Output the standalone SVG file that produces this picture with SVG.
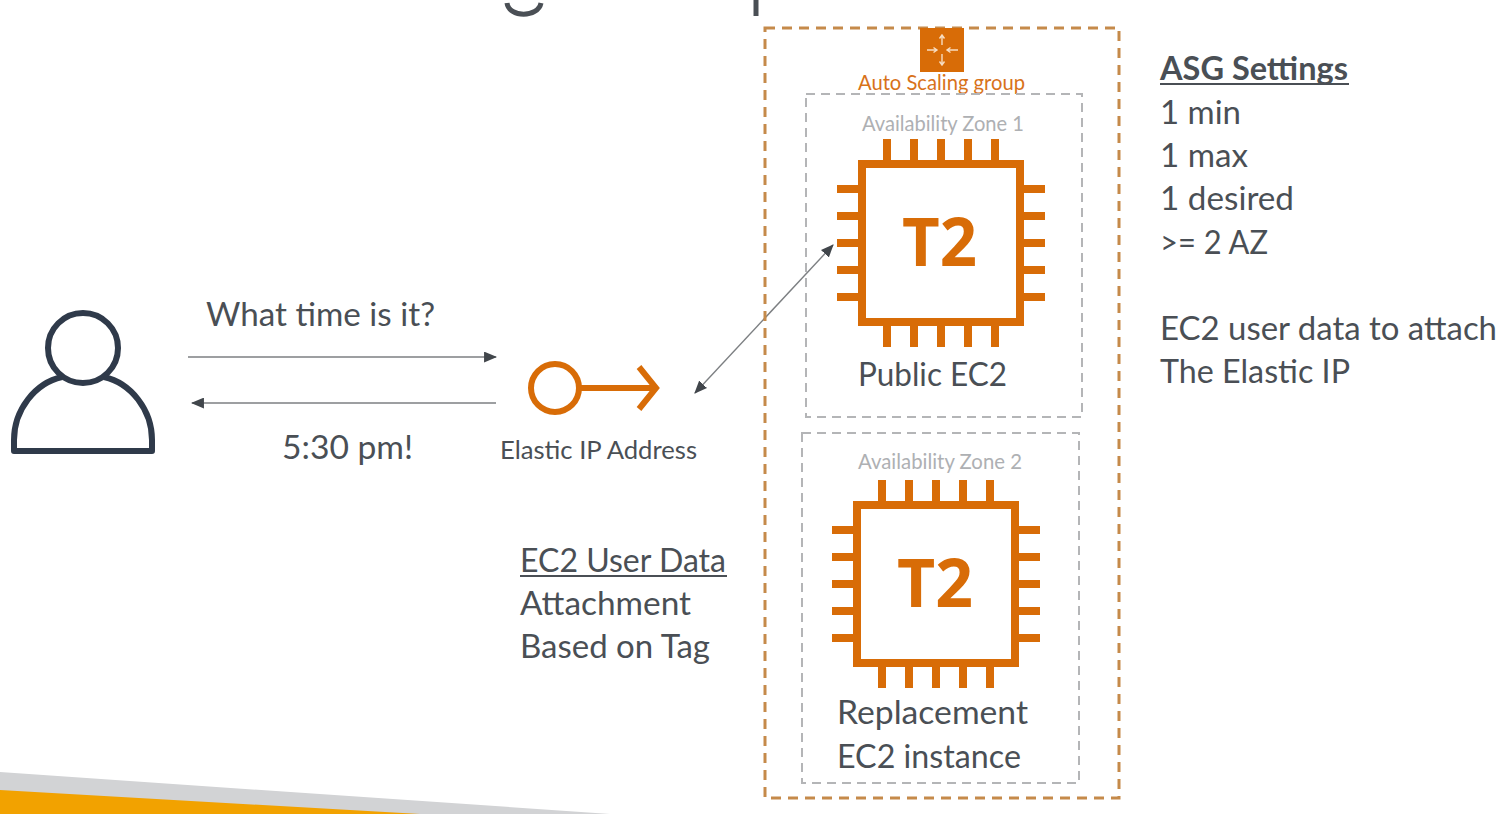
<svg xmlns="http://www.w3.org/2000/svg" width="1510" height="814" viewBox="0 0 1510 814">
<style>
text{font-family:"Lato","Open Sans","Liberation Sans",sans-serif;fill:#4a4f55}
.b{font-size:33px}
.s{font-size:25px}
.az{font-size:20.5px;fill:#aeb0b3}
.chip{fill:none;stroke:#d86c07;stroke-width:8}
.t2{font-size:66px;font-weight:700;fill:#d86c07;font-family:"Open Sans","Liberation Sans",sans-serif}
.conn{stroke:#7c7f82;stroke-width:1.4;fill:none}
.head{fill:#41464b}
.azbox{fill:none;stroke:#b4b5b7;stroke-width:2;stroke-dasharray:9 6}
.ic{stroke:#f7dcc0;stroke-width:1.4;fill:none}
</style>
<defs>
<marker id="ah" viewBox="0 0 12 10" refX="11" refY="5" markerWidth="13" markerHeight="11" markerUnits="userSpaceOnUse" orient="auto-start-reverse"><path d="M0 0L12 5L0 10Z" class="head"/></marker>
<g id="chipshape">
<rect x="-79" y="-79" width="158" height="158" class="chip"/>
<path class="chip" d="M-54 -83V-104M-27 -83V-104M0 -83V-104M27 -83V-104M54 -83V-104M-54 83V104M-27 83V104M0 83V104M27 83V104M54 83V104M-83 -54H-104M-83 -27H-104M-83 0H-104M-83 27H-104M-83 54H-104M83 -54H104M83 -27H104M83 0H104M83 27H104M83 54H104"/>
</g>
</defs>
<rect width="1510" height="814" fill="#fff"/>
<g id="footer">
<path d="M0 772L610 814H0Z" fill="#d2d3d5"/>
<path d="M0 790L420 814H0Z" fill="#f2a200"/>
</g>
<g id="title-fragment" fill="none" stroke="#4a4f55" stroke-width="5">
<path d="M507 3C509 18 538 18 541 3"/>
<path d="M756 0V16"/>
</g>
<g id="user">
<circle cx="83" cy="348" r="35" fill="none" stroke="#2f3a4a" stroke-width="6"/>
<path d="M62 377C35 383 14 410 14 440V451H152V440C152 410 131 383 104 377" fill="none" stroke="#2f3a4a" stroke-width="6" stroke-linejoin="round"/>
</g>
<g id="connectors">
<path class="conn" d="M188 357H496" marker-end="url(#ah)"/>
<path class="conn" d="M496 403H192" marker-end="url(#ah)"/>
<path class="conn" d="M695 393L833 245" marker-start="url(#ah)" marker-end="url(#ah)"/>
</g>
<g id="label-request"><text class="b" x="206" y="326" textLength="229" lengthAdjust="spacingAndGlyphs">What time is it?</text></g>
<g id="label-response"><text class="b" x="282" y="459" textLength="131" lengthAdjust="spacingAndGlyphs">5:30 pm!</text></g>
<g id="elastic-ip">
<circle cx="555" cy="388" r="24" fill="none" stroke="#d86c07" stroke-width="6"/>
<path d="M579 388H655M639 367L656 388L639 409" fill="none" stroke="#d86c07" stroke-width="6"/>
<text class="s" x="500" y="459" textLength="197" lengthAdjust="spacingAndGlyphs">Elastic IP Address</text>
</g>
<g id="user-data-note">
<text class="b" x="520" y="572" textLength="206" lengthAdjust="spacingAndGlyphs">EC2 User Data</text>
<path d="M520 576H727" stroke="#4a4f55" stroke-width="2"/>
<text class="b" x="520" y="615" textLength="171" lengthAdjust="spacingAndGlyphs">Attachment</text>
<text class="b" x="520" y="658" textLength="190" lengthAdjust="spacingAndGlyphs">Based on Tag</text>
</g>
<g id="asg">
<rect x="765" y="28" width="354" height="770" fill="none" stroke="#c58a4a" stroke-width="3" stroke-dasharray="10 7"/>
<rect x="920" y="28" width="44" height="44" fill="#d86c07"/>
<path class="ic" d="M942 36V45M939.500 38.500L942 35L944.500 38.500M942 54V64M939.500 61.500L942 65L944.500 61.500M927 50H936M933.500 47.500L937 50L933.500 52.500M958 50H948M950.500 47.500L947 50L950.500 52.500"/>
<text x="858" y="90" font-size="21" textLength="167" lengthAdjust="spacingAndGlyphs" style="fill:#d8721a">Auto Scaling group</text>
</g>
<g id="az1">
<rect x="806" y="94" width="276" height="323" class="azbox"/>
<text class="az" x="862" y="131" textLength="162" lengthAdjust="spacingAndGlyphs">Availability Zone 1</text>
</g>
<g id="public-ec2">
<use href="#chipshape" x="941" y="243"/>
<text class="t2" x="902" y="266" textLength="75" lengthAdjust="spacingAndGlyphs">T2</text>
<text class="b" x="858" y="386" textLength="149" lengthAdjust="spacingAndGlyphs">Public EC2</text>
</g>
<g id="az2">
<rect x="802" y="433" width="277" height="350" class="azbox"/>
<text class="az" x="858" y="469" textLength="164" lengthAdjust="spacingAndGlyphs">Availability Zone 2</text>
</g>
<g id="replacement-ec2">
<use href="#chipshape" x="936" y="584"/>
<text class="t2" x="897" y="607" textLength="76" lengthAdjust="spacingAndGlyphs">T2</text>
<text class="b" x="837" y="724" textLength="191" lengthAdjust="spacingAndGlyphs">Replacement</text>
<text class="b" x="837" y="768" textLength="184" lengthAdjust="spacingAndGlyphs">EC2 instance</text>
</g>
<g id="asg-settings">
<text class="b" x="1160" y="80" font-weight="700" textLength="188" lengthAdjust="spacingAndGlyphs">ASG Settings</text>
<path d="M1160 84H1349" stroke="#4a4f55" stroke-width="2"/>
<text class="b" x="1160" y="124" textLength="81" lengthAdjust="spacingAndGlyphs">1 min</text>
<text class="b" x="1160" y="167" textLength="88" lengthAdjust="spacingAndGlyphs">1 max</text>
<text class="b" x="1160" y="210" textLength="134" lengthAdjust="spacingAndGlyphs">1 desired</text>
<text class="b" x="1160" y="254" textLength="108" lengthAdjust="spacingAndGlyphs">&gt;= 2 AZ</text>
<text class="b" x="1160" y="340" textLength="337" lengthAdjust="spacingAndGlyphs">EC2 user data to attach</text>
<text class="b" x="1160" y="383" textLength="190" lengthAdjust="spacingAndGlyphs">The Elastic IP</text>
</g>
</svg>
